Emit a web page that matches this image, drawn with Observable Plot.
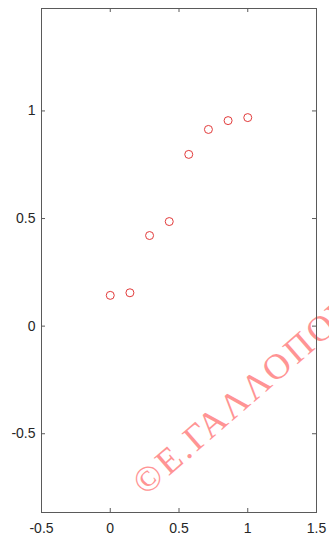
<!DOCTYPE html>
<html><head><meta charset="utf-8">
<script src="https://cdn.jsdelivr.net/npm/d3@7"></script>
<script src="https://cdn.jsdelivr.net/npm/@observablehq/plot@0.6"></script>
<style>html,body{margin:0;padding:0;background:#fff;}
svg g[aria-label="text"] text{letter-spacing:3px;}</style>
</head><body><div id="chart"></div>
<script>
const xValues = [0, 0.143, 0.286, 0.429, 0.571, 0.714, 0.857, 1];
const yValues = [0.143, 0.155, 0.421, 0.486, 0.798, 0.914, 0.955, 0.969];
const xTicks = [-0.5, 0, 0.5, 1, 1.5];
const yTicks = [-0.5, 0, 0.5, 1];
const watermark = ["©Ε.ΓΑΛΛΟΠΟΥΛΟΣ"];

const points = xValues.map((x, i) => ({x, y: yValues[i]}));
const fmt = d => String(d);
const W = 329, H = 536, ML = 41, MR = 13, MT = 8, MB = 24;
const innerW = W - ML - MR, innerH = H - MT - MB, tick = 4;
const axisColor = "#5a5a5a";

const chart = Plot.plot({
  width: W, height: H,
  marginLeft: ML, marginRight: MR, marginTop: MT, marginBottom: MB,
  style: {fontFamily: "'Liberation Sans', Arial, sans-serif", fontSize: "14px", color: "#262626", background: "#fff", overflow: "hidden"},
  x: {domain: [-0.5, 1.5]},
  y: {domain: [-0.866, 1.476]},
  marks: [
    Plot.text(watermark, {text: d => d, frameAnchor: "bottom-left", dx: 104, dy: -16, rotate: -41, textAnchor: "start", lineAnchor: "bottom", fontFamily: "'Liberation Serif', 'Times New Roman', serif", fontSize: 36, fill: "#ff9494"}),
    Plot.frame({stroke: axisColor, strokeWidth: 1}),
    Plot.tickX(xTicks, {x: d => d, insetTop: innerH - tick, stroke: axisColor}),
    Plot.tickX(xTicks, {x: d => d, insetBottom: innerH - tick, stroke: axisColor}),
    Plot.tickY(yTicks, {y: d => d, insetRight: innerW - tick, stroke: axisColor}),
    Plot.tickY(yTicks, {y: d => d, insetLeft: innerW - tick, stroke: axisColor}),
    Plot.axisX(xTicks, {anchor: "bottom", tickSize: 0, tickPadding: 11, tickFormat: fmt, label: null}),
    Plot.axisY(yTicks, {anchor: "left", tickSize: 0, tickPadding: 6, tickFormat: fmt, label: null}),
    Plot.dot(points, {x: "x", y: "y", r: 4, stroke: "#e23b3b", strokeWidth: 1, fill: "none"})
  ]
});
document.getElementById("chart").append(chart);
</script>
</body></html>
